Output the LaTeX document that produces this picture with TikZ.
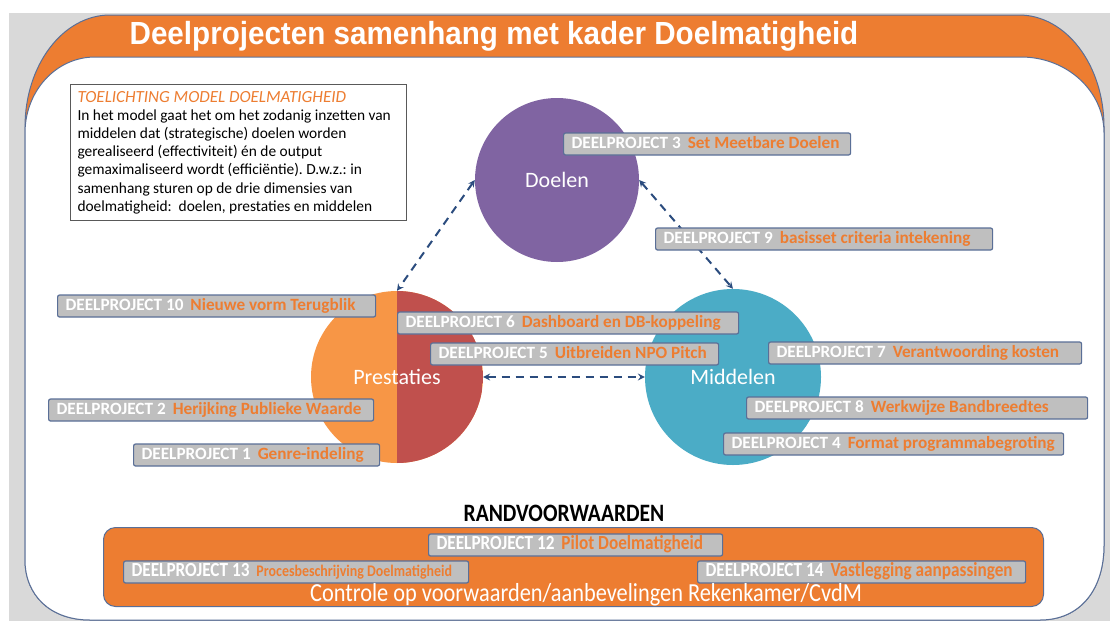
\documentclass[tikz,border=0pt]{standalone}
\usepackage{fontspec}
\setmainfont{Carlito}
\newfontfamily\titelfont[FakeStretch=0.925]{Liberation Sans}
\newfontfamily\smalfont[FakeStretch=0.86]{Carlito}
\usetikzlibrary{positioning,arrows}
\frenchspacing

\definecolor{kaderoranje}{HTML}{ED7D31}
\definecolor{kaderrand}{HTML}{5A6F97}
\definecolor{vakgrijs}{HTML}{BFBFBF}
\definecolor{doelpaars}{HTML}{8064A2}
\definecolor{prestoranje}{HTML}{F79646}
\definecolor{prestrood}{HTML}{C0504D}
\definecolor{middelblauw}{HTML}{4BACC6}
\definecolor{pijlblauw}{HTML}{2B4C7E}
\definecolor{achtergrond}{HTML}{D9D9D9}

\newcommand{\dpnummer}[1]{\textcolor{white}{DEELPROJECT #1}\hspace{7pt}}

\tikzset{>=stealth, % kleine pijlpunten
x=1pt, y=-1pt, % alles in pixels van het origineel
dimensie/.style={circle, inner sep=0pt, text=white, font=\fontsize{22}{24}\selectfont}, % de drie cirkels
dpbox/.style={draw=kaderrand, fill=vakgrijs, line width=1.2pt, rounded corners=2pt, anchor=west,
  inner xsep=8pt, inner ysep=3pt, text height=12pt, text depth=4pt, align=flush left,
  text=kaderoranje, font=\fontsize{17.2}{18}\selectfont\bfseries}, % grijze deelproject-vakjes
dpsmal/.style={dpbox, font=\smalfont\fontsize{20}{21}\selectfont\bfseries}, % vakjes onder de randvoorwaarden
relatie/.style={<->, pijlblauw, line width=2pt, dash pattern=on 8pt off 6pt}, % gestippelde pijlen
}

\begin{document}
\begin{tikzpicture}
\useasboundingbox (0,0) rectangle (1110,621);
\fill[white] (0,0) rectangle (1110,621);
\fill[achtergrond] (9,13) rectangle (1110,621);

% kader met oranje band
\filldraw[fill=kaderoranje, draw=kaderrand, line width=1pt] (25,560) -- (25,127)
  .. controls (25,65) and (63,15) .. (110,15) -- (1019,15)
  .. controls (1066,15) and (1104,65) .. (1104,127) -- (1104,545)
  .. controls (1104,590) and (1080,620) .. (1040,620) -- (90,620)
  .. controls (50,620) and (25,595) .. (25,560) -- cycle;
\filldraw[fill=white, draw=kaderrand, line width=1pt] (25,560) -- (25,133)
  .. controls (25,91) and (56,57) .. (95,57) -- (1021,57)
  .. controls (1067,57) and (1104,91) .. (1104,133) -- (1104,545)
  .. controls (1104,590) and (1080,620) .. (1040,620) -- (90,620)
  .. controls (50,620) and (25,595) .. (25,560) -- cycle;
\node[text=white, font=\titelfont\bfseries\fontsize{32}{34}\selectfont] (titel) at (494,36) {Deelprojecten samenhang met kader Doelmatigheid};

% toelichting
\node[draw=black!65, line width=1pt, fill=white, anchor=north west, text width=322pt, inner xsep=7pt, inner ysep=7pt,
  align=flush left, font=\fontsize{15.4}{18.1}\selectfont] (toelichting) at (70,84)
  {{\color{kaderoranje}\itshape\fontsize{17}{18.1}\selectfont TOELICHTING MODEL DOELMATIGHEID}\\
  In het model gaat het om het zodanig inzetten van\\
  middelen dat (strategische) doelen worden\\
  gerealiseerd (effectiviteit) én de output\\
  gemaximaliseerd wordt (efficiëntie). D.w.z.: in\\
  samenhang sturen op de drie dimensies van\\
  doelmatigheid:\ \ doelen, prestaties en middelen};

% dimensies
\node[dimensie, fill=doelpaars, minimum size=164pt] (doelen) at (557,180) {Doelen};
\node[dimensie, fill=prestoranje, minimum size=172pt,
  path picture={\fill[prestrood] (path picture bounding box.north) rectangle (path picture bounding box.south east);}]
  (prestaties) at (397,377) {Prestaties};
\node[dimensie, fill=middelblauw, minimum size=176pt] (middelen) at (733,377) {Middelen};

\draw[relatie] (doelen.west) -- (prestaties.north);
\draw[relatie] (doelen.east) -- (middelen.north);
\draw[relatie] (prestaties.east) -- (middelen.west);

% deelprojecten
\node[dpbox, text width=271pt] (dp3) at (563,144) {\dpnummer{3}Set Meetbare Doelen};
\node[dpbox, text width=321pt] (dp9) at (655,239) {\dpnummer{9}basisset criteria intekening};
\node[dpbox, text width=302pt] (dp10) at (57,306) {\dpnummer{10}Nieuwe vorm Terugblik};
\node[dpbox, text width=325pt] (dp6) at (397,323) {\dpnummer{6}Dashboard en DB-koppeling};
\node[dpbox, text width=272pt] (dp5) at (430,354) {\dpnummer{5}Uitbreiden NPO Pitch};
\node[dpbox, text width=297pt] (dp7) at (768,353) {\dpnummer{7}Verantwoording kosten};
\node[dpbox, text width=309pt] (dp2) at (48,410) {\dpnummer{2}Herijking Publieke Waarde};
\node[dpbox, text width=325pt] (dp8) at (746,408) {\dpnummer{8}Werkwijze Bandbreedtes};
\node[dpbox, text width=324pt] (dp4) at (723,444) {\dpnummer{4}Format programmabegroting};
\node[dpbox, text width=230pt] (dp1) at (133,455) {\dpnummer{1}Genre-indeling};

% randvoorwaarden
\node[font=\smalfont\bfseries\fontsize{25}{27}\selectfont] (randkop) at (564,513) {RANDVOORWAARDEN};
\node[draw=kaderrand, fill=kaderoranje, line width=1pt, rounded corners=12pt, anchor=north west,
  minimum width=940pt, minimum height=79pt, inner sep=0pt] (rand) at (103,527) {};
\node[dpsmal, text width=278pt] (dp12) at (428,545) {\dpnummer{12}Pilot Doelmatigheid};
\node[dpsmal, text width=329pt] (dp13) at (123,572) {\dpnummer{13}{\fontsize{16.2}{17}\selectfont Procesbeschrijving Doelmatigheid}};
\node[dpsmal, text width=312pt] (dp14) at (697,572) {\dpnummer{14}Vastlegging aanpassingen};
\node[text=white, font=\smalfont\fontsize{26}{27}\selectfont] (controle) at (586,595) {Controle op voorwaarden/aanbevelingen Rekenkamer/CvdM};
\end{tikzpicture}
\end{document}
